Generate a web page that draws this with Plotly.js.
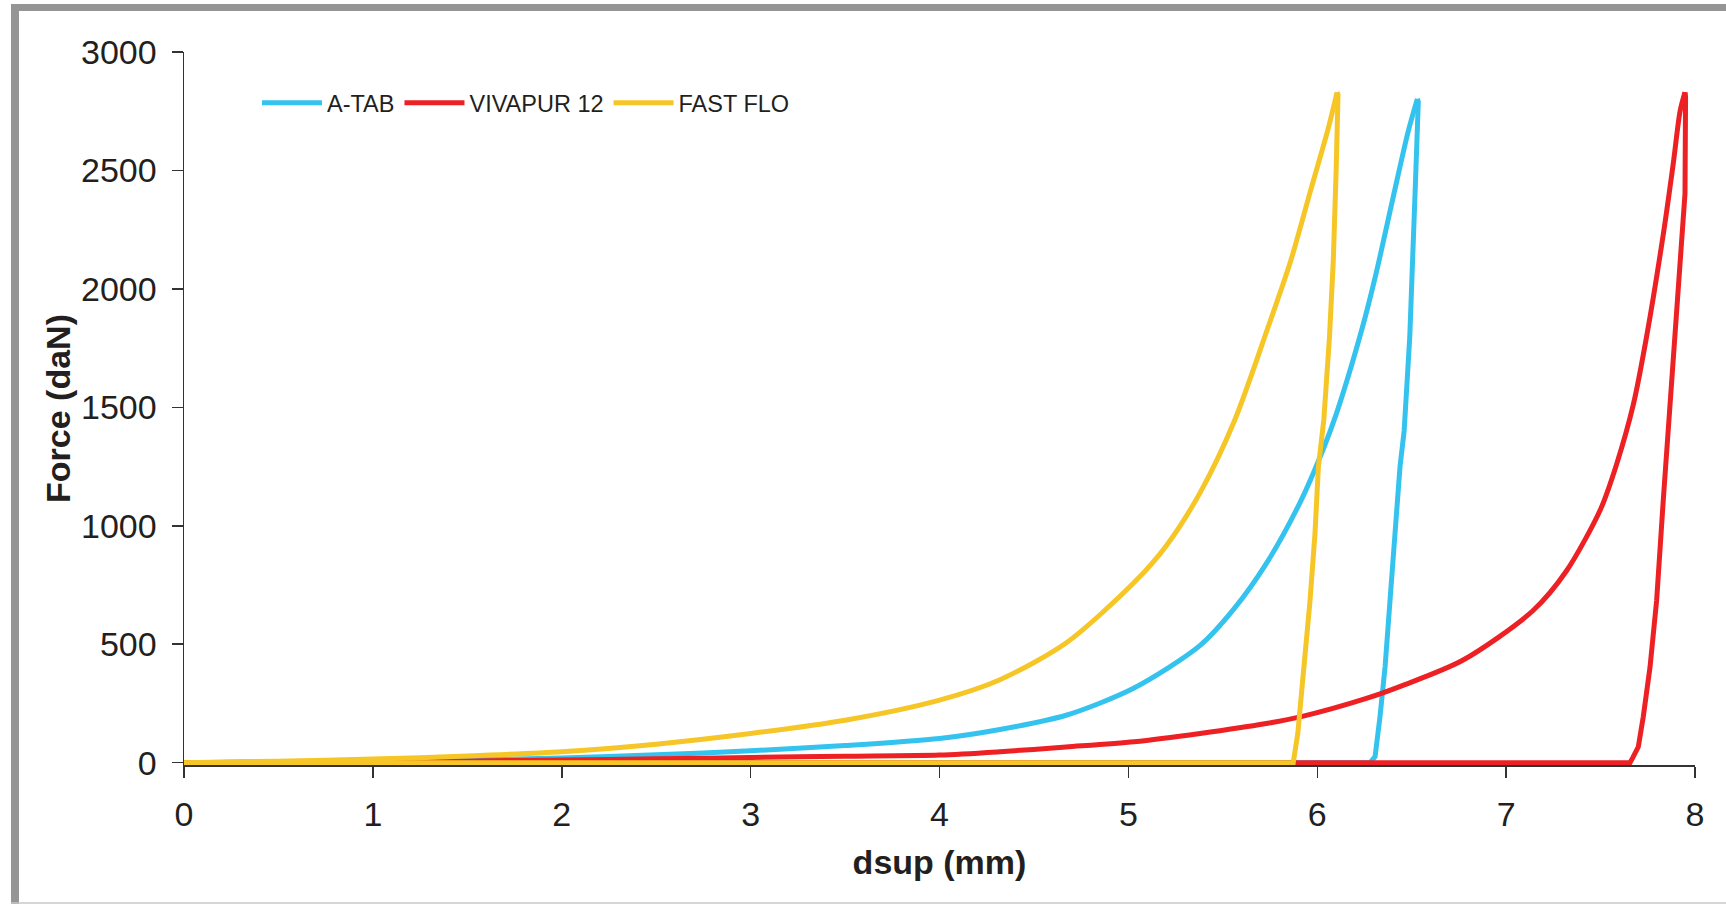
<!DOCTYPE html>
<html>
<head>
<meta charset="utf-8">
<script src="https://cdn.plot.ly/plotly-3.0.1.min.js"></script>
<style>
  html, body { margin: 0; padding: 0; background: #ffffff; }
  #chart { width: 1726px; height: 904px; }
</style>
</head>
<body>
<div id="chart"></div>
<script>
// ---------------- DATA ----------------
var seriesNames = ["A-TAB", "VIVAPUR 12", "FAST FLO"];

// A-TAB : loading branch
var atabLoadX = [0, 0.5, 1.0, 1.5, 2.0, 2.5, 3.0, 3.5, 4.0, 4.32, 4.67, 5.03, 5.38, 5.56, 5.73, 5.91, 6.03, 6.10, 6.24, 6.31, 6.40, 6.48, 6.53];
var atabLoadF = [0, 3, 7, 12, 20, 33, 50, 72, 102, 140, 200, 315, 495, 650, 840, 1100, 1320, 1470, 1840, 2060, 2380, 2660, 2802];
// A-TAB : unloading branch and return at zero force
var atabUnloadX = [6.53, 6.535, 6.52, 6.508, 6.49, 6.475, 6.46, 6.438, 6.412, 6.385, 6.359, 6.332, 6.306, 6.28, 0];
var atabUnloadF = [2802, 2790, 2450, 2120, 1800, 1600, 1400, 1248, 967, 686, 404, 193, 25, 0, 0];

// VIVAPUR 12 : loading branch
var vivaLoadX = [0, 0.5, 1.0, 1.5, 2.0, 2.5, 3.0, 3.5, 4.0, 4.32, 4.67, 5.03, 5.38, 5.73, 5.91, 6.26, 6.44, 6.77, 7.14, 7.32, 7.50, 7.585, 7.673, 7.744, 7.832, 7.885, 7.921, 7.947];
var vivaLoadF = [0, 2, 4, 7, 11, 16, 22, 27, 32, 46, 66, 88, 123, 165, 193, 271, 322, 432, 640, 810, 1070, 1260, 1510, 1800, 2230, 2530, 2750, 2830];
// VIVAPUR 12 : unloading branch and return at zero force
var vivaUnloadX = [7.947, 7.95, 7.947, 7.921, 7.885, 7.868, 7.832, 7.797, 7.762, 7.726, 7.700, 7.670, 7.656, 0];
var vivaUnloadF = [2830, 2810, 2402, 2120, 1698, 1500, 1108, 686, 404, 193, 67, 20, 0, 0];

// FAST FLO : loading branch
var fastLoadX = [0, 0.5, 1.0, 1.5, 2.0, 2.5, 3.0, 3.5, 4.0, 4.32, 4.67, 5.03, 5.20, 5.38, 5.56, 5.74, 5.86, 5.96, 6.06, 6.105];
var fastLoadF = [0, 6, 15, 28, 46, 78, 123, 179, 264, 350, 505, 760, 915, 1140, 1440, 1839, 2120, 2402, 2683, 2830];
// FAST FLO : unloading branch and return at zero force
var fastUnloadX = [6.105, 6.11, 6.10, 6.085, 6.065, 6.05, 6.035, 6.006, 5.988, 5.962, 5.930, 5.897, 5.873, 0];
var fastUnloadF = [2830, 2820, 2500, 2120, 1800, 1600, 1450, 1248, 967, 686, 404, 123, 0, 0];

var xTickVals = [0, 1, 2, 3, 4, 5, 6, 7, 8];
var yTickVals = [0, 500, 1000, 1500, 2000, 2500, 3000];

var xTitle = "dsup (mm)";
var yTitle = "Force (daN)";

// ---------------- STYLE ----------------
var colors = ["#34c3ee", "#ed2024", "#f5c625"];
var W = 1726, H = 904;
var M = { l: 184, r: 31, t: 52, b: 139 };

function pxX(p) { return (p - M.l) / (W - M.l - M.r); }
function pxY(p) { return (H - M.b - p) / (H - M.t - M.b); }

function mkTraces(name, lx, lf, ux, uf, color) {
  return [
    {
      type: "scatter", mode: "lines", name: name, legendgroup: name,
      x: ux, y: uf,
      line: { color: color, width: 5 },
      showlegend: false, hoverinfo: "x+y+name"
    },
    {
      type: "scatter", mode: "lines", name: name, legendgroup: name,
      x: lx, y: lf,
      line: { color: color, width: 5, shape: "spline", smoothing: 0.8 },
      showlegend: true, hoverinfo: "x+y+name"
    }
  ];
}

var traces = []
  .concat(mkTraces(seriesNames[0], atabLoadX, atabLoadF, atabUnloadX, atabUnloadF, colors[0]))
  .concat(mkTraces(seriesNames[1], vivaLoadX, vivaLoadF, vivaUnloadX, vivaUnloadF, colors[1]))
  .concat(mkTraces(seriesNames[2], fastLoadX, fastLoadF, fastUnloadX, fastUnloadF, colors[2]));

var axisFont = { family: "Liberation Sans, Arial, Helvetica, sans-serif", size: 34, color: "#231f20" };
var titleFont = { family: "Liberation Sans, Arial, sans-serif", size: 34, color: "#231f20", weight: "bold" };

var layout = {
  width: W,
  height: H,
  margin: M,
  paper_bgcolor: "#ffffff",
  plot_bgcolor: "#ffffff",
  showlegend: true,
  legend: {
    orientation: "h",
    x: pxX(257),
    xanchor: "left",
    y: pxY(103),
    yanchor: "middle",
    bgcolor: "rgba(0,0,0,0)",
    font: { family: "Liberation Sans, Arial, sans-serif", size: 23.5, color: "#231f20" },
    itemwidth: 60,
    traceorder: "normal"
  },
  xaxis: {
    range: [0, 8],
    tickvals: xTickVals,
    ticktext: xTickVals.map(String),
    showgrid: false,
    zeroline: false,
    showline: true,
    linecolor: "#333333",
    linewidth: 1.5,
    ticks: "outside",
    ticklen: 11,
    tickwidth: 1.5,
    tickcolor: "#333333",
    tickfont: axisFont,
    ticklabelstandoff: 8,
    layer: "below traces",
    title: { text: xTitle, font: titleFont, standoff: 18 }
  },
  yaxis: {
    range: [-10, 3000],
    tickvals: yTickVals,
    ticktext: yTickVals.map(String),
    showgrid: false,
    zeroline: false,
    showline: true,
    linecolor: "#333333",
    linewidth: 1.5,
    ticks: "outside",
    ticklen: 11,
    tickwidth: 1.5,
    tickcolor: "#333333",
    tickfont: axisFont,
    ticklabelstandoff: 8,
    layer: "below traces",
    title: { text: yTitle, font: titleFont, standoff: 0 }
  },
  shapes: [
    { type: "rect", xref: "paper", yref: "paper", layer: "above",
      x0: pxX(11), x1: pxX(1726), y0: pxY(11), y1: pxY(4),
      fillcolor: "#959595", line: { width: 0 } },
    { type: "rect", xref: "paper", yref: "paper", layer: "above",
      x0: pxX(11), x1: pxX(19), y0: pxY(904), y1: pxY(4),
      fillcolor: "#959595", line: { width: 0 } },
    { type: "line", xref: "paper", yref: "paper", layer: "above",
      x0: pxX(11), x1: pxX(1726), y0: pxY(903), y1: pxY(903),
      line: { color: "#c8c8c8", width: 1.5 } }
  ]
};

Plotly.newPlot("chart", traces, layout, { staticPlot: true, displayModeBar: false });
</script>
</body>
</html>
